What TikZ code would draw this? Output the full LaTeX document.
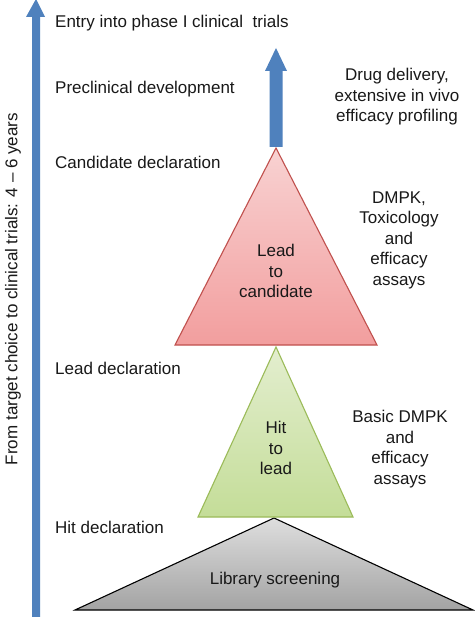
\documentclass[tikz,border=0pt]{standalone}
\usepackage{fontspec}
\setmainfont{Liberation Sans}
\begin{document}
\begin{tikzpicture}[x=1pt,y=-1pt,
  lbl/.style={font=\fontsize{17}{20.5}\selectfont, text=black!90, inner sep=0pt},
  stagelbl/.style={lbl, anchor=base west},
  sidelbl/.style={lbl, align=center},
  tri/.style={line width=1.1pt, line join=miter}]
\definecolor{arrowblue}{HTML}{4F81BD}
\definecolor{redtop}{HTML}{F8D2D2}
\definecolor{redbot}{HTML}{F29E9E}
\definecolor{redline}{HTML}{C0504D}
\definecolor{greentop}{HTML}{E3EECF}
\definecolor{greenbot}{HTML}{C4DD98}
\definecolor{greenline}{HTML}{9BBB59}
\definecolor{graytop}{HTML}{DEDEDE}
\definecolor{graybot}{HTML}{A3A3A3}
\useasboundingbox (0,0) rectangle (474,617);
\fill[white] (0,0) rectangle (474,617);
% left long arrow
\fill[arrowblue] (32,617) -- (32,17) -- (26,17) -- (36,-1) -- (45,17) -- (40,17) -- (40,617) -- cycle;
\node[lbl, rotate=90] (span) at (13,289) {From target choice to clinical trials: 4 -- 6 years};
% triangles
\draw[tri, draw=black, top color=graytop, bottom color=graybot] (274,518) -- (473,610) -- (75,610) -- cycle;
\draw[tri, draw=greenline, top color=greentop, bottom color=greenbot] (276,347) -- (353,517) -- (198,517) -- cycle;
\draw[tri, draw=redline, top color=redtop, bottom color=redbot] (276,148) -- (377,345) -- (175,345) -- cycle;
% middle block arrow
\fill[arrowblue] (269.5,147) -- (269.5,71) -- (265,71) -- (276,48) -- (287,71) -- (282.5,71) -- (282.5,147) -- cycle;
% stage labels
\node[stagelbl] (entry) at (55,28) {Entry into phase I clinical\ \ trials};
\node[stagelbl] (precl) at (55,94) {Preclinical development};
\node[stagelbl] (cand) at (55,169) {Candidate declaration};
\node[stagelbl] (leadd) at (55,374) {Lead declaration};
\node[stagelbl] (hitd) at (55,533) {Hit declaration};
% triangle texts
\node[sidelbl] (l2c) at (276,271) {Lead\\to\\candidate};
\node[sidelbl] (h2l) at (276,448) {Hit\\to\\lead};
\node[lbl] (lib) at (275,580) {Library screening};
% side texts
\node[sidelbl] (drug) at (397,97) {Drug delivery,\\extensive in vivo\\efficacy profiling};
\node[sidelbl] (dmpk) at (399,240) {DMPK,\\Toxicology\\and\\efficacy\\assays};
\node[sidelbl] (basic) at (400,449) {Basic DMPK\\and\\efficacy\\assays};
\end{tikzpicture}
\end{document}
